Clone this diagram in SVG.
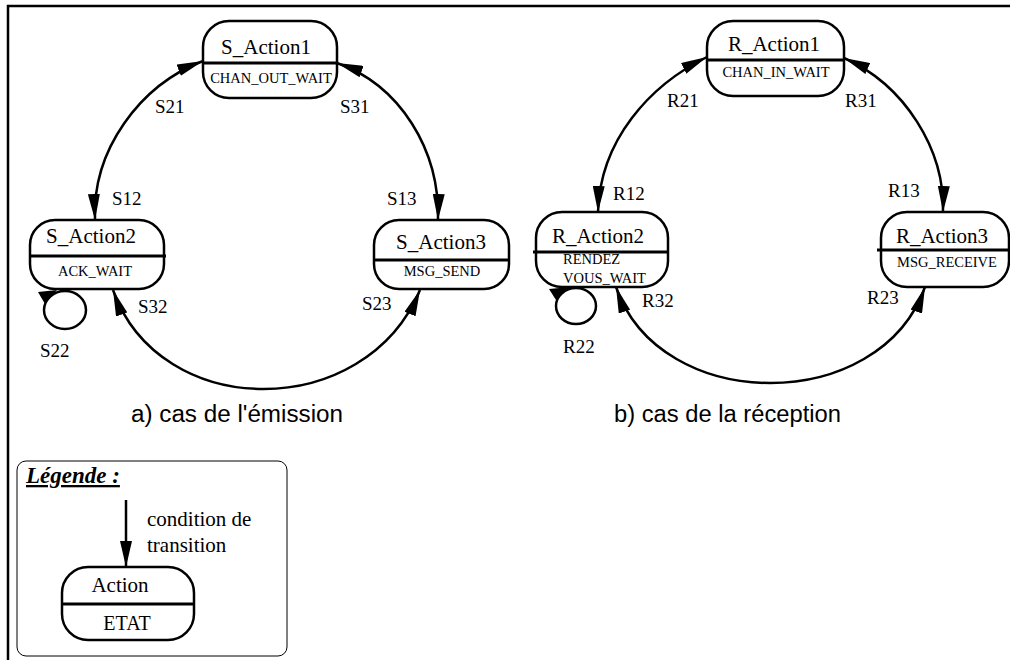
<svg xmlns="http://www.w3.org/2000/svg" width="1010" height="660" viewBox="0 0 1010 660">
<style>
.frame{fill:none;stroke:#000;stroke-width:2.5}
.node{fill:#fff;stroke:#000;stroke-width:2.5}
.div{stroke:#000;stroke-width:3}
.edge{fill:none;stroke:#000;stroke-width:2.5}
.t{font-family:"Liberation Serif","Times New Roman",serif;fill:#000}
.title{font-size:21px;text-anchor:middle}
.sub{font-size:14.5px;text-anchor:middle}
.lbl{font-size:19px}
.cap{font-family:"Liberation Sans",Arial,sans-serif;font-size:23px;fill:#000}
</style>
<defs>
<marker id="ah" markerUnits="userSpaceOnUse" markerWidth="26" markerHeight="12" refX="26" refY="6" orient="auto-start-reverse" viewBox="0 0 26 12">
<path d="M0,0 L26,6 L0,12 z" fill="#000"/>
</marker>
</defs>
<rect width="1010" height="660" fill="#fff"/>
<path class="frame" d="M8,660 L8,6 L1010,6"/>

<g id="connectors">
<path class="edge" d="M95,220 C92,150 140,85 203,61" marker-start="url(#ah)" marker-end="url(#ah)"/>
<path class="edge" d="M337,63 C400,85 440,150 438,220" marker-start="url(#ah)" marker-end="url(#ah)"/>
<path class="edge" d="M113,290 C160,422 365,422 420,290" marker-start="url(#ah)" marker-end="url(#ah)"/>
<ellipse class="edge" cx="65" cy="310" rx="21" ry="19"/>
<polygon points="57,290 38,292 45,304" fill="#000"/>
<path class="edge" d="M598,212 C600,140 650,85 707,57" marker-start="url(#ah)" marker-end="url(#ah)"/>
<path class="edge" d="M844,58 C905,85 945,150 943,212" marker-start="url(#ah)" marker-end="url(#ah)"/>
<path class="edge" d="M616,287 C660,415 880,415 925,287" marker-start="url(#ah)" marker-end="url(#ah)"/>
<ellipse class="edge" cx="576" cy="306" rx="20" ry="18"/>
<polygon points="570,287 549,289 556,300" fill="#000"/>
<line class="edge" x1="126" y1="500" x2="126" y2="567" marker-end="url(#ah)"/>
</g>

<g id="edge-labels" class="t lbl">
<text x="155" y="113">S21</text>
<text x="340" y="113">S31</text>
<text x="112" y="205">S12</text>
<text x="387" y="205">S13</text>
<text x="138" y="313">S32</text>
<text x="362" y="310">S23</text>
<text x="40" y="357">S22</text>
<text x="667" y="107">R21</text>
<text x="845" y="107">R31</text>
<text x="613" y="200">R12</text>
<text x="888" y="197">R13</text>
<text x="642" y="307">R32</text>
<text x="867" y="304">R23</text>
<text x="563" y="353">R22</text>
</g>

<g id="S_Action1">
<rect class="node" x="203" y="21" width="134" height="77" rx="26"/>
<line class="div" x1="203" y1="63" x2="337" y2="63"/>
<text class="t title" x="266" y="54">S_Action1</text>
<text class="t sub" x="271" y="83">CHAN_OUT_WAIT</text>
</g>
<g id="S_Action2">
<rect class="node" x="30" y="220" width="134" height="69" rx="25"/>
<line class="div" x1="30" y1="256" x2="166" y2="256"/>
<text class="t title" x="91" y="243">S_Action2</text>
<text class="t sub" x="95" y="276">ACK_WAIT</text>
</g>
<g id="S_Action3">
<rect class="node" x="374" y="220" width="135" height="69" rx="25"/>
<line class="div" x1="374" y1="260" x2="510" y2="260"/>
<text class="t title" x="441" y="249">S_Action3</text>
<text class="t sub" x="442" y="276">MSG_SEND</text>
</g>
<g id="R_Action1">
<rect class="node" x="707" y="21" width="137" height="75" rx="26"/>
<line class="div" x1="707" y1="60" x2="844" y2="60"/>
<text class="t title" x="774" y="51">R_Action1</text>
<text class="t sub" x="776" y="77">CHAN_IN_WAIT</text>
</g>
<g id="R_Action2">
<rect class="node" x="536" y="212" width="132" height="75" rx="26"/>
<line class="div" x1="533" y1="252" x2="669" y2="252"/>
<text class="t title" x="598" y="243">R_Action2</text>
<text class="t sub" x="563" y="264" style="text-anchor:start">RENDEZ</text>
<text class="t sub" x="563" y="283" style="text-anchor:start">VOUS_WAIT</text>
</g>
<g id="R_Action3">
<rect class="node" x="881" y="212" width="128" height="75" rx="26"/>
<line class="div" x1="877" y1="250" x2="1010" y2="250"/>
<text class="t title" x="942" y="243">R_Action3</text>
<text class="t sub" x="947" y="267">MSG_RECEIVE</text>
</g>

<g id="captions">
<text class="cap" x="131" y="422" textLength="212" lengthAdjust="spacingAndGlyphs">a) cas de l'émission</text>
<text class="cap" x="614" y="422" textLength="227" lengthAdjust="spacingAndGlyphs">b) cas de la réception</text>
</g>

<g id="legend">
<rect x="17" y="461" width="270" height="195" rx="9" fill="none" stroke="#000" stroke-width="1"/>
<text class="t" x="26" y="483" style="font-size:23px;font-weight:bold;font-style:italic;text-decoration:underline">Légende :</text>
<text class="t" x="147" y="526" style="font-size:21px">condition de</text>
<text class="t" x="147" y="552" style="font-size:21px">transition</text>
</g>
<g id="legend-node">
<rect class="node" x="62" y="567" width="132" height="73" rx="26"/>
<line class="div" x1="62" y1="604" x2="194" y2="604"/>
<text class="t title" x="120" y="592">Action</text>
<text class="t" x="127" y="630" style="font-size:20px;text-anchor:middle">ETAT</text>
</g>
</svg>
